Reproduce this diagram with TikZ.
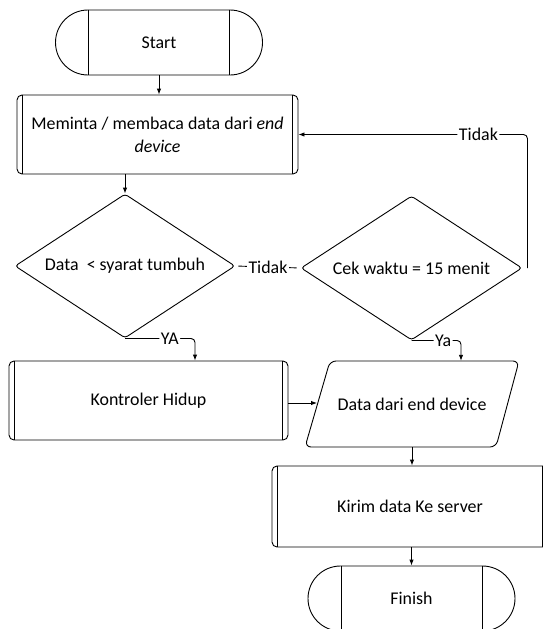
\documentclass[tikz,border=0pt]{standalone}
\usepackage{fontspec}
\setmainfont{Carlito}
\usetikzlibrary{shapes.geometric,shapes.misc,arrows.meta}
\begin{document}
\begin{tikzpicture}[x=1pt,y=-1pt,
  every node/.style={font=\fontsize{17.9}{23}\selectfont, text=black},
  line/.style={draw=black, line width=0.9pt},
  terminal/.style={line, rounded rectangle, minimum width=207pt, minimum height=65pt, inner sep=0pt},
  process/.style={line, rectangle, rounded corners=5pt, inner sep=0pt, align=center},
  bar/.style={draw=black, line width=1.4pt},
  decision/.style={line, diamond, aspect=1.53, inner sep=0pt, rounded corners=3pt},
  arrow/.style={line, -{Latex[length=6pt,width=4.5pt]}},
  lbl/.style={fill=white, inner sep=1.5pt}
]
\useasboundingbox (0,0) rectangle (543,629);
\clip (0,0) rectangle (543,629);

% blocks
\node[terminal] (start) at (159,42.5) {Start};
\node[process, minimum width=281pt, minimum height=79pt] (req) at (157.5,134.5)
  {Meminta / membaca data dari \textit{end}\\\textit{device}};
\node[decision, minimum width=220pt, minimum height=144pt] (cek1) at (125,266) {Data~ < syarat tumbuh};
\node[decision, minimum width=221pt, minimum height=144pt] (cek2) at (411.5,268) {Cek waktu = 15 menit};
\node[process, minimum width=279pt, minimum height=79pt] (ctrl) at (148.5,400.5) {Kontroler Hidup};
\node[minimum width=190pt, minimum height=86pt, inner sep=0pt] (data) at (412,404) {Data dari end device};
\node[process, minimum width=276pt, minimum height=81pt] (send) at (410,506.5) {Kirim data Ke server};
\node[terminal] (finish) at (411.5,598.5) {Finish};

% input/output parallelogram around the data node
\draw[line, rounded corners=6pt] (424,361) -- (519,361) -- (496,447) -- (305,447) -- (330,361) -- (424,361);
\coordinate (datain) at (317,403);

% side bars of the predefined-process boxes
\foreach \n in {req, ctrl, send} {
  \draw[bar] ([xshift=6pt]\n.north west) -- ([xshift=6pt]\n.south west);
  \draw[bar] ([xshift=-6pt]\n.north east) -- ([xshift=-6pt]\n.south east);
}
% inner lines of the terminators
\foreach \n in {start, finish} {
  \draw[line] ([xshift=-70.5pt]\n.north) -- ([xshift=-70.5pt]\n.south);
  \draw[line] ([xshift=70.5pt]\n.north) -- ([xshift=70.5pt]\n.south);
}

% connectors
\draw[arrow] (start.south) -- (start.south |- req.north);
\draw[arrow] (cek1.north |- req.south) -- (cek1.north);
\draw[line, shorten <=3pt, shorten >=4pt] (cek1.east) -- node[lbl]{Tidak} (cek2.west);
\draw[arrow, rounded corners=4pt] ([xshift=5pt]cek2.east) |- node[lbl, pos=0.607]{Tidak} (req.east);
\draw[arrow, rounded corners=4pt] (cek1.south) -| node[lbl, pos=0.32]{YA} ([xshift=46.5pt]ctrl.north);
\draw[arrow, rounded corners=4pt] (cek2.south) -| node[lbl, pos=0.32]{Ya} ([xshift=49pt]data.north);
\draw[arrow] (ctrl.east |- datain) -- (datain);
\draw[arrow] (data.south) -- (data.south |- send.north);
\draw[arrow] (finish.north |- send.south) -- (finish.north);
\end{tikzpicture}
\end{document}
